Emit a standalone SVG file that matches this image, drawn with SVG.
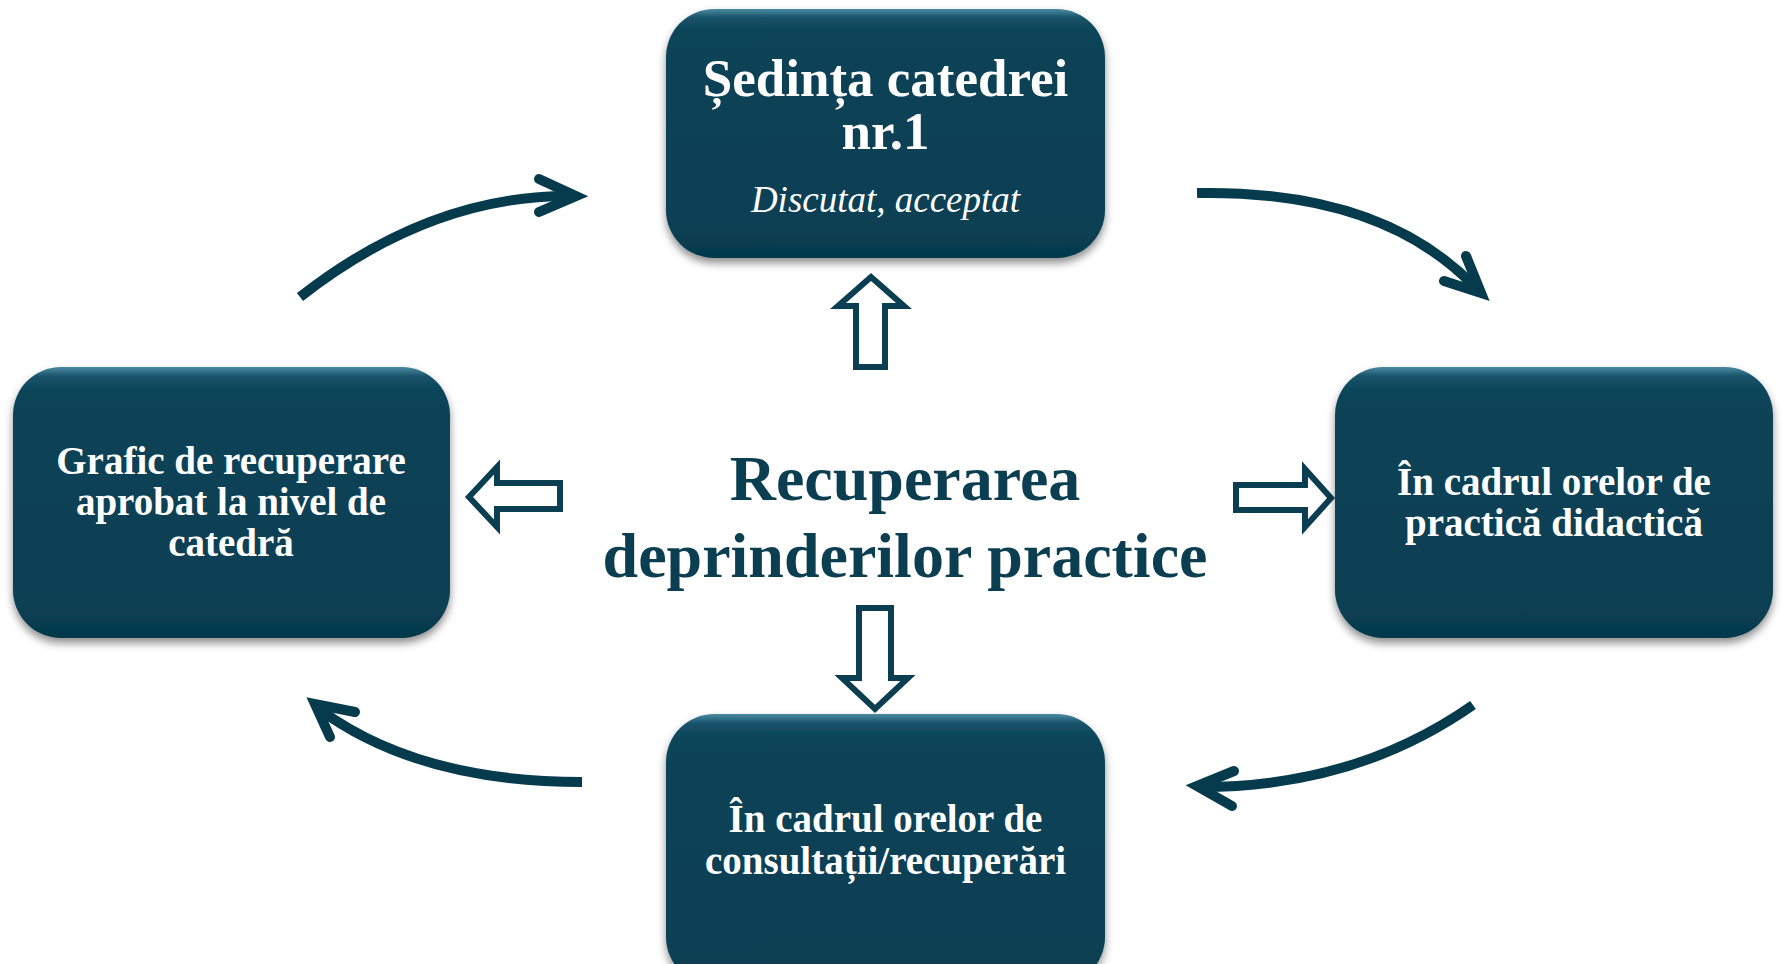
<svg xmlns="http://www.w3.org/2000/svg" width="1783" height="964" viewBox="0 0 1783 964">
  <style>
    .box { fill: url(#boxGrad); filter: url(#shadow); }
    .lbl { font-family: "Liberation Serif", "Times New Roman", serif; font-weight: bold; fill: #ffffff; text-anchor: middle; }
    .it { font-family: "Liberation Serif", "Times New Roman", serif; font-style: italic; fill: #ffffff; text-anchor: middle; }
    .center { font-family: "Liberation Serif", "Times New Roman", serif; font-weight: bold; fill: #0b3e51; text-anchor: middle; font-size: 64px; }
    .curve { fill: none; stroke: #053b4d; stroke-width: 10; }
    .head { fill: none; stroke: #053b4d; stroke-width: 10; stroke-linecap: round; stroke-linejoin: miter; stroke-miterlimit: 10; }
    .block { fill: #ffffff; stroke: #0a3e50; stroke-width: 6; stroke-linejoin: miter; stroke-miterlimit: 10; }
  </style>
  <defs>
    <linearGradient id="boxGrad" x1="0" y1="0" x2="0" y2="1">
      <stop offset="0" stop-color="#4a8aa0"/>
      <stop offset="0.035" stop-color="#17536a"/>
      <stop offset="0.09" stop-color="#0b4458"/>
      <stop offset="0.9" stop-color="#083f53"/>
      <stop offset="1" stop-color="#05384b"/>
    </linearGradient>
    <filter id="shadow" x="-10%" y="-10%" width="120%" height="125%">
      <feDropShadow dx="0" dy="5" stdDeviation="4" flood-color="#000000" flood-opacity="0.45"/>
    </filter>
  </defs>
  <rect width="1783" height="964" fill="#ffffff"/>

  <g id="connectors">
    <path class="curve" d="M300,297 Q429,196 568,196"/>
    <polyline class="head" points="539,179 576,196 539,212"/>
    <path class="curve" d="M1197,193 Q1381,190 1474,286"/>
    <polyline class="head" points="1466,256 1481,293 1444,281"/>
    <path class="curve" d="M1473,705 Q1356,787 1201,787"/>
    <polyline class="head" points="1234,771 1197,786 1232,806"/>
    <path class="curve" d="M582,782 Q418,782 319,709"/>
    <polyline class="head" points="355,712 315,704 330,737"/>
    <polygon class="block" points="871,277 904,306 885,306 885,367 856,367 856,306 838,306"/>
    <polygon class="block" points="859,608 891,608 891,678 908,678 875,709 842,678 859,678"/>
    <polygon class="block" points="469,497 497,467 497,483 560,483 560,509 497,509 497,527"/>
    <polygon class="block" points="1236,485 1305,485 1305,469 1331,498 1305,527 1305,510 1236,510"/>
  </g>

  <g id="node-top">
    <rect class="box" x="666" y="9" width="439" height="249" rx="48" ry="48"/>
    <text class="lbl" x="885.5" y="96" font-size="53">Ședința catedrei</text>
    <text class="lbl" x="885.5" y="149" font-size="53">nr.1</text>
    <text class="it" x="885.5" y="212" font-size="37">Discutat, acceptat</text>
  </g>

  <g id="node-left">
    <rect class="box" x="13" y="367" width="437" height="271" rx="48" ry="48"/>
    <text class="lbl" x="231" y="474" font-size="39">Grafic de recuperare</text>
    <text class="lbl" x="231" y="515" font-size="39">aprobat la nivel de</text>
    <text class="lbl" x="231" y="556" font-size="39">catedră</text>
  </g>

  <g id="node-right">
    <rect class="box" x="1335" y="367" width="438" height="271" rx="48" ry="48"/>
    <text class="lbl" x="1554" y="495" font-size="39">În cadrul orelor de</text>
    <text class="lbl" x="1554" y="536" font-size="39">practică didactică</text>
  </g>

  <g id="node-bottom">
    <rect class="box" x="666" y="714" width="439" height="271" rx="48" ry="48"/>
    <text class="lbl" x="885.5" y="832" font-size="39">În cadrul orelor de</text>
    <text class="lbl" x="885.5" y="874" font-size="39">consultații/recuperări</text>
  </g>

  <g id="node-center">
    <text class="center" x="905" y="500">Recuperarea</text>
    <text class="center" x="905" y="577">deprinderilor practice</text>
  </g>
</svg>
